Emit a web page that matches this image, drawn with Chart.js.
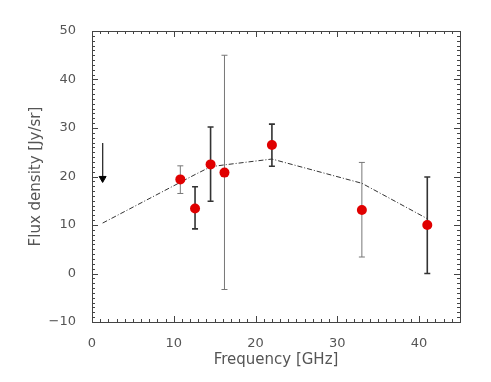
<!DOCTYPE html>
<html>
<head>
<meta charset="utf-8">
<script src="https://cdn.jsdelivr.net/npm/chart.js@4"></script>
<style>
  html, body { margin: 0; padding: 0; background: #fff; }
  #wrap { width: 491px; height: 382px; }
</style>
</head>
<body>
<div id="wrap"><canvas id="fluxchart" width="491" height="382"></canvas></div>
<script>
// measured points
const freq = [10.8, 12.6, 14.5, 16.2, 22.0, 33.0, 41.0];
const flux = [19.4, 13.4, 22.5, 20.8, 26.5, 13.1, 10.0];
const errHigh = [22.2, 17.9, 30.2, 45.0, 30.8, 22.9, 19.9];
const errLow = [16.5, 9.2, 14.9, -3.3, 22.1, 3.4, 0.0];
const errThick = [false, true, true, false, true, false, true];

// model curve
const modelFreq = [1.3, 10.8, 12.6, 14.5, 16.2, 22.0, 33.0, 41.0];
const modelFlux = [10.4, 18.8, 20.4, 22.0, 22.4, 23.6, 18.6, 11.3];

// upper limit at low frequency
const limitFreq = [1.3, 1.3];
const limitFlux = [26.9, 19.6];

const xTicks = [0, 10, 20, 30, 40];
const yTicks = [-10, 0, 10, 20, 30, 40, 50];

const labelFont = { family: 'DejaVu Sans', size: 13 };
const titleFont = { family: 'DejaVu Sans', size: 15 };
const textColor = '#555';

const errorBars = {
    id: 'errorBars',
    beforeDatasetsDraw(chart) {
        const { ctx, scales: { x, y } } = chart;
        ctx.save();
        freq.forEach(function (f, i) {
            const px = x.getPixelForValue(f);
            const top = y.getPixelForValue(errHigh[i]);
            const bot = y.getPixelForValue(errLow[i]);
            ctx.strokeStyle = errThick[i] ? '#333' : '#777';
            ctx.lineWidth = errThick[i] ? 1.6 : 1;
            ctx.beginPath();
            ctx.moveTo(px, top); ctx.lineTo(px, bot);
            ctx.moveTo(px - 3, top); ctx.lineTo(px + 3, top);
            ctx.moveTo(px - 3, bot); ctx.lineTo(px + 3, bot);
            ctx.stroke();
        });
        ctx.restore();
    }
};

// IDL-style box with inward ticks on all four sides
const boxTicks = {
    id: 'boxTicks',
    afterDraw(chart) {
        const { ctx, chartArea: a, scales: { x, y } } = chart;
        ctx.save();
        ctx.strokeStyle = '#444';
        ctx.lineWidth = 1;
        ctx.strokeRect(a.left + 0.5, a.top + 0.5, a.right - a.left, a.bottom - a.top);
        ctx.beginPath();
        for (let v = 0; v <= 45; v++) {
            const px = Math.round(x.getPixelForValue(v)) + 0.5;
            const len = v % 10 === 0 ? 6 : 3;
            ctx.moveTo(px, a.bottom); ctx.lineTo(px, a.bottom - len);
            ctx.moveTo(px, a.top); ctx.lineTo(px, a.top + len);
        }
        for (let v = -10; v <= 50; v++) {
            const py = Math.round(y.getPixelForValue(v)) + 0.5;
            const len = v % 10 === 0 ? 6 : 3;
            ctx.moveTo(a.left, py); ctx.lineTo(a.left + len, py);
            ctx.moveTo(a.right, py); ctx.lineTo(a.right - len, py);
        }
        ctx.stroke();
        ctx.restore();
    }
};

const ctx = document.getElementById('fluxchart').getContext('2d');

new Chart(ctx, {
    type: 'scatter',
    data: {
        datasets: [
            {
                label: 'model',
                data: modelFreq.map((f, i) => ({ x: f, y: modelFlux[i] })),
                showLine: true,
                borderColor: '#333',
                borderWidth: 1,
                borderDash: [5, 2, 1, 2],
                pointRadius: 0,
                order: 3
            },
            {
                label: 'upper limit',
                data: limitFreq.map((f, i) => ({ x: f, y: limitFlux[i] })),
                showLine: true,
                borderColor: '#333',
                borderWidth: 1,
                pointStyle: 'triangle',
                rotation: 180,
                pointRadius: [0, 4],
                pointBackgroundColor: '#000',
                pointBorderColor: '#000',
                order: 2
            },
            {
                label: 'flux',
                data: freq.map((f, i) => ({ x: f, y: flux[i] })),
                pointRadius: 5,
                pointBackgroundColor: '#e00000',
                pointBorderColor: '#e00000',
                pointBorderWidth: 0,
                order: 1
            }
        ]
    },
    options: {
        responsive: false,
        animation: false,
        layout: { padding: { top: 31, right: 31, left: 0, bottom: 0 } },
        plugins: {
            legend: { display: false },
            tooltip: { enabled: false }
        },
        scales: {
            x: {
                type: 'linear',
                min: 0,
                max: 45,
                grid: { display: false },
                border: { display: false },
                afterBuildTicks: (scale) => { scale.ticks = xTicks.map(v => ({ value: v })); },
                afterFit: (scale) => { scale.height = 60; },
                ticks: { font: labelFont, color: textColor, padding: 6, maxRotation: 0 },
                title: {
                    display: true,
                    text: 'Frequency [GHz]',
                    font: titleFont,
                    color: textColor,
                    padding: { top: 0, bottom: 13 }
                }
            },
            y: {
                min: -10,
                max: 50,
                grid: { display: false },
                border: { display: false },
                afterBuildTicks: (scale) => { scale.ticks = yTicks.map(v => ({ value: v })); },
                afterFit: (scale) => { scale.width = 92; },
                ticks: {
                    font: labelFont,
                    color: textColor,
                    padding: 8,
                    callback: (v) => String(v).replace('-', '\u2212')
                },
                title: {
                    display: true,
                    text: 'Flux density [Jy/sr]',
                    font: titleFont,
                    color: textColor,
                    padding: { top: 27, bottom: 0 }
                }
            }
        }
    },
    plugins: [errorBars, boxTicks]
});
</script>
</body>
</html>
